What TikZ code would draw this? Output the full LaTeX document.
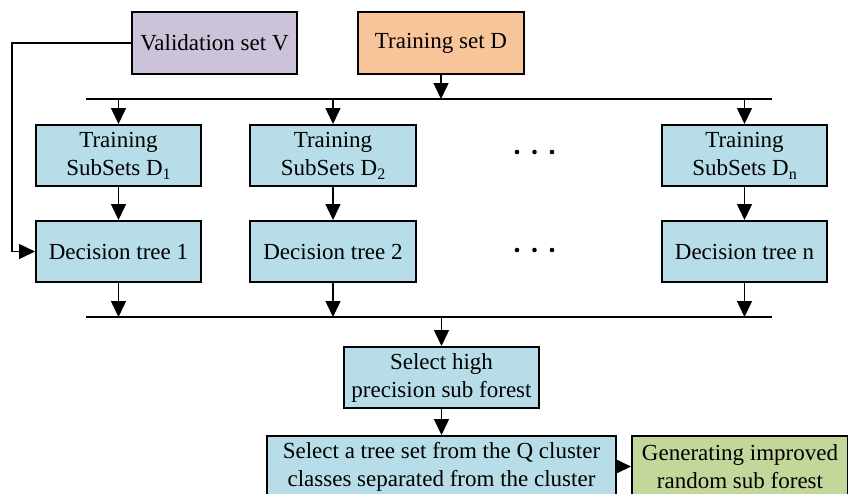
\documentclass[tikz,border=0pt]{standalone}
\usepackage{fontspec}
\setmainfont{Liberation Serif}
\usetikzlibrary{arrows.meta}
\definecolor{valfill}{RGB}{204,194,218}
\definecolor{trainfill}{RGB}{248,196,154}
\definecolor{stepfill}{RGB}{183,221,232}
\definecolor{outfill}{RGB}{196,215,155}
\newcommand\lowsub[1]{\raisebox{-0.4ex}{\fontsize{16}{16}\selectfont #1}}
\tikzset{
  box/.style={draw=black, line width=2pt, rectangle, align=center, inner sep=0pt,
    font=\fontsize{23}{28}\selectfont},
  arr/.style={line width=1.5pt, -{Triangle[length=16pt,width=15pt]}},
  bus/.style={line width=1.5pt},
  ellipsis/.style={minimum width=40pt, minimum height=8pt, inner sep=0pt},
}
\begin{document}
\begin{tikzpicture}[x=1pt,y=-1pt]
\path[use as bounding box] (0,0) rectangle (848,493);
\clip (0,0) rectangle (848,493);

% inputs
\node[box, fill=valfill, minimum width=165pt, minimum height=62pt] (val) at (214.5,43) {Validation set V};
\node[box, fill=trainfill, minimum width=166pt, minimum height=62pt] (train) at (441,43) {Training set D};

% distribution and collection buses
\coordinate (topL) at (86,99);
\coordinate (topR) at (772,99);
\coordinate (botL) at (86,317);
\coordinate (botR) at (772,317);
\draw[bus] (topL) -- (topR);
\draw[bus] (botL) -- (botR);

% training subsets
\node[box, fill=stepfill, minimum width=165pt, minimum height=61pt] (s1) at (118.5,155.5) {Training\\SubSets D\lowsub{1}};
\node[box, fill=stepfill, minimum width=166pt, minimum height=61pt] (s2) at (333,155.5) {Training\\SubSets D\lowsub{2}};
\node[box, fill=stepfill, minimum width=165pt, minimum height=61pt] (sn) at (744.5,155.5) {Training\\SubSets D\lowsub{n}};
\node[ellipsis] (dots1) at (534.5,152) {};
\foreach \dx in {-17.5,0,17.5} \fill ([xshift=\dx pt]dots1.center) circle (2.3pt);

% decision trees
\node[box, fill=stepfill, minimum width=165pt, minimum height=61pt] (t1) at (118.5,251.5) {Decision tree 1};
\node[box, fill=stepfill, minimum width=166pt, minimum height=61pt] (t2) at (333,251.5) {Decision tree 2};
\node[box, fill=stepfill, minimum width=165pt, minimum height=61pt] (tn) at (744.5,251.5) {Decision tree n};
\node[ellipsis] (dots2) at (534.5,250) {};
\foreach \dx in {-17.5,0,17.5} \fill ([xshift=\dx pt]dots2.center) circle (2.3pt);

% selection stages (the last row runs past the lower edge)
\node[box, fill=stepfill, minimum width=195pt, minimum height=61pt] (high) at (441.5,377.5) {Select high\\precision sub forest};
\node[box, fill=stepfill, minimum width=349pt, minimum height=61pt] (sel) at (441.5,466.5) {Select a tree set from the Q cluster\\classes separated from the cluster};
\node[box, fill=outfill, minimum width=216pt, minimum height=61pt] (gen) at (740,466.5) {Generating improved\\random sub forest};

% connectors
\draw[arr] (train.south) -- (train.south |- topL);
\foreach \n in {s1,s2,sn} \draw[arr] (\n.north |- topL) -- (\n.north);
\draw[arr] (s1.south) -- (t1.north);
\draw[arr] (s2.south) -- (t2.north);
\draw[arr] (sn.south) -- (tn.north);
\foreach \n in {t1,t2,tn} \draw[arr] (\n.south) -- (\n.south |- botL);
\draw[arr] (high.north |- botL) -- (high.north);
\draw[arr] (high.south) -- (sel.north);
\draw[arr] (sel.east) -- (gen.west);
\draw[arr] (val.west) -- (12,43) -- (12,251.5) -- (t1.west);
\end{tikzpicture}
\end{document}
